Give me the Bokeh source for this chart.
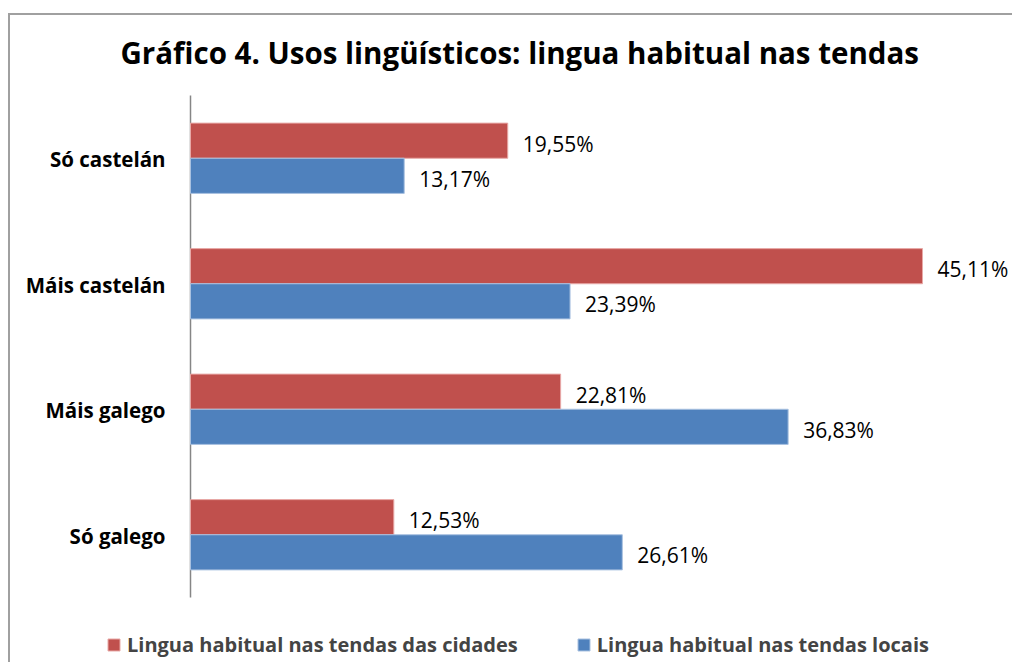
from bokeh.plotting import figure
from bokeh.models import ColumnDataSource, Range1d, Legend, LegendItem, Label
from bokeh.core.properties import value
from bokeh.embed import file_html
from bokeh.resources import INLINE

categories = ["Só castelán", "Máis castelán", "Máis galego", "Só galego"]
cidades = [19.55, 45.11, 22.81, 12.53]
locais = [13.17, 23.39, 36.83, 26.61]
series_names = ["Lingua habitual nas tendas das cidades", "Lingua habitual nas tendas locais"]
title_text = "Gráfico 4. Usos lingüísticos: lingua habitual nas tendas"

RED = "#C0504D"
BLUE = "#4F81BD"
FONT = "Open Sans"
BAR_H = 0.28


def fmt(v):
    return f"{v:.2f}".replace(".", ",") + "%"


# category slots: first category on top
pos = [-i for i in range(len(categories))]
n = len(categories)

src = ColumnDataSource(dict(
    cat=categories,
    pos=pos,
    y_c=[y + BAR_H / 2 for y in pos],
    y_l=[y - BAR_H / 2 for y in pos],
    cidades=cidades,
    locais=locais,
    lab_c=[fmt(v) for v in cidades],
    lab_l=[fmt(v) for v in locais],
))

W, H = 1004, 649
p = figure(
    width=W, height=H,
    x_range=Range1d(-11.093, 50.78),
    y_range=Range1d(1.1375 - 5.1713, 1.1375),
    x_axis_location=None, y_axis_location=None,
    output_backend="svg",
    toolbar_location=None,
    min_border=0,
    outline_line_color=None,
)
p.margin = (13, 0, 0, 8)
p.styles = {"border-left": "2px solid #A0A0A0", "border-top": "2px solid #A0A0A0"}

p.xgrid.visible = False
p.ygrid.visible = False

# chart title
p.add_layout(Label(x=110, y=H - 37, x_units="screen", y_units="screen",
                   text=title_text, text_font=FONT, text_font_style="bold",
                   text_font_size="29.5px", text_color="#000000",
                   text_align="left", text_baseline="alphabetic"))

# value axis line at zero, spanning the category band
p.segment(x0=[0], y0=[0.5], x1=[0], y1=[0.5 - n], line_color="#868686", line_width=1.5)

# category labels
p.text(x=0, y="pos", text="cat", source=src, x_offset=-25, y_offset=1,
       text_align="right", text_baseline="middle",
       text_font=value(FONT), text_font_style="bold", text_font_size="20.5px",
       text_color="#000000")

r1 = p.hbar(y="y_c", right="cidades", left=0, height=BAR_H,
            source=src, fill_color=RED, line_color="#E8A9A7", line_width=1)
r2 = p.hbar(y="y_l", right="locais", left=0, height=BAR_H,
            source=src, fill_color=BLUE, line_color="#A9C1E0", line_width=1)

for col, ycol, lab in (("cidades", "y_c", "lab_c"), ("locais", "y_l", "lab_l")):
    p.text(x=col, y=ycol, text=lab, source=src,
           x_offset=15, y_offset=3, text_baseline="middle", text_align="left",
           text_font=value(FONT), text_font_size="21px", text_color="#000000")

legend = Legend(
    items=[LegendItem(label=series_names[0], renderers=[r1]),
           LegendItem(label=series_names[1], renderers=[r2])],
    orientation="horizontal",
    location=(96, 6),
    glyph_width=15, glyph_height=15,
    label_standoff=6, spacing=58,
    label_text_font=FONT, label_text_font_style="bold", label_text_font_size="20px",
    border_line_color=None, background_fill_alpha=0,
    padding=0, margin=0,
)
p.add_layout(legend, "center")

open("out.html", "w").write(file_html(p, INLINE))
